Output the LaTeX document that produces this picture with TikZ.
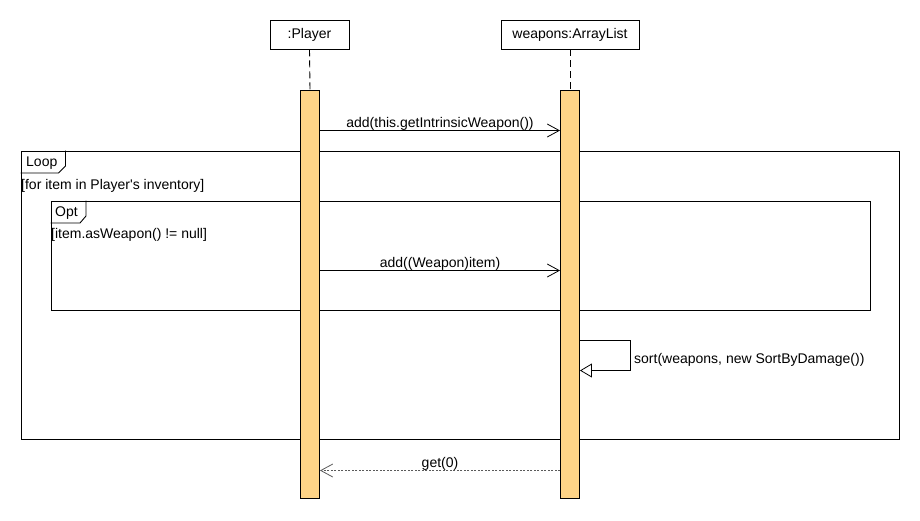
\documentclass[tikz,border=0pt]{standalone}
\usepackage{fontspec}
\setmainfont{Liberation Sans}
\newfontfamily\lbfont{Liberation Sans}
\usetikzlibrary{arrows.meta}
\definecolor{barfill}{RGB}{254,212,135}
\definecolor{retgray}{RGB}{90,90,90}
\tikzset{
  objbox/.style={draw=black, line width=0.9pt, fill=white, minimum width=79pt, minimum height=29pt, inner sep=0pt, font=\lbfont\fontsize{14}{16}\selectfont},
  lifeline/.style={line width=0.9pt, dash pattern=on 7pt off 4pt},
  actbar/.style={draw=black, line width=0.9pt, fill=barfill, minimum width=19pt, minimum height=408pt, inner sep=0pt, anchor=north},
  msg/.style={line width=0.8pt, -{Straight Barb[length=12pt,width=13pt,line width=0.8pt]}},
  selfmsg/.style={line width=0.8pt, -{Triangle[open,fill=white,length=12pt,width=14pt,line width=0.8pt]}},
  retmsg/.style={line width=0.8pt, draw=retgray, dash pattern=on 2pt off 1.5pt, -{Straight Barb[length=12pt,width=13pt,line width=0.8pt]}},
  lbl/.style={font=\lbfont\fontsize{14}{16}\selectfont, inner sep=0pt},
  msglbl/.style={lbl, anchor=base, yshift=3.5pt},
  frame/.style={draw=black, line width=0.9pt}
}
\begin{document}
\begin{tikzpicture}[x=1pt,y=-1pt]
\useasboundingbox (0,0) rectangle (920,520);
% objects
\node[objbox] (player) at (309.5,34.5) {:Player};
\node[objbox, minimum width=138pt] (weapons) at (570,34.5) {weapons:ArrayList};
% activation bars
\node[actbar] (pbar) at (310,90) {};
\node[actbar] (wbar) at (570,90) {};
\draw[lifeline] (player.south) -- (pbar.north);
\draw[lifeline] (weapons.south) -- (wbar.north);
% loop frame
\node[frame, minimum width=878pt, minimum height=288pt, inner sep=0pt, anchor=north west] (loop) at (20.5,150.5) {};
\draw[frame] (65.5,150.5) -- (65.5,166) -- (58.5,173) -- (20.5,173);
\node[lbl, anchor=base west] (looplbl) at (26,166.3) {Loop};
\node[lbl, anchor=base west] (loopguard) at (21,189.3) {[for item in Player's inventory]};
% opt frame
\node[frame, minimum width=819pt, minimum height=109pt, inner sep=0pt, anchor=north west] (opt) at (50.5,200.5) {};
\draw[frame] (86,200.5) -- (86,216) -- (80,223) -- (50.5,223);
\node[lbl, anchor=base west] (optlbl) at (55,216) {Opt};
\node[lbl, anchor=base west] (optguard) at (51,238.5) {[item.asWeapon() != null]};
% redraw bars above frames
\node[actbar] at (310,90) {};
\node[actbar] at (570,90) {};
% messages
\coordinate (m1s) at (pbar.east |- 0,130.5);
\coordinate (m1e) at (wbar.west |- 0,130.5);
\draw[msg] (m1s) -- (m1e) node[msglbl, midway] {add(this.getIntrinsicWeapon())};
\coordinate (m2s) at (pbar.east |- 0,270.5);
\coordinate (m2e) at (wbar.west |- 0,270.5);
\draw[msg] (m2s) -- (m2e) node[msglbl, midway] {add((Weapon)item)};
\coordinate (s1) at (wbar.east |- 0,340.5);
\coordinate (s2) at (wbar.east |- 0,370.5);
\draw[selfmsg] (s1) -- (630.5,340.5) -- (630.5,370.5) -- (s2);
\node[lbl, anchor=base west] (sortlbl) at (634,363.5) {sort(weapons, new SortByDamage())};
\coordinate (r1s) at (wbar.west |- 0,470.5);
\coordinate (r1e) at (pbar.east |- 0,470.5);
\draw[retmsg] (r1s) -- (r1e) node[msglbl, midway, text=black] {get(0)};
\end{tikzpicture}
\end{document}
